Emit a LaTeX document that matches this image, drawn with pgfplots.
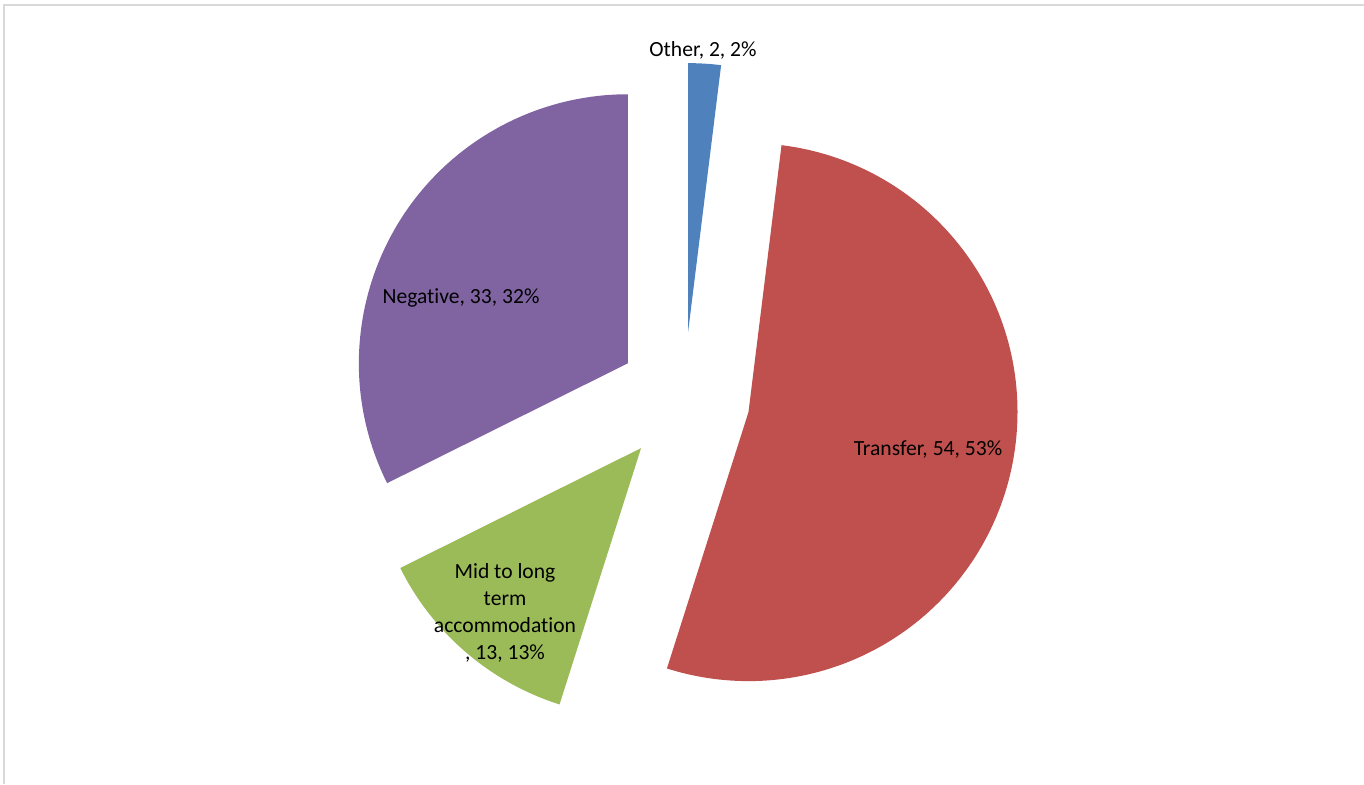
\documentclass[border=0pt]{standalone}
\usepackage{pgfplots}
\usepackage{pgfplotstable}
\usepackage{fontspec}
\setmainfont{Carlito}[Ligatures={NoCommon}]
\pgfplotsset{compat=1.18}

\definecolor{cOther}{HTML}{4F81BD}
\definecolor{cTransfer}{HTML}{C0504D}
\definecolor{cMid}{HTML}{9BBB59}
\definecolor{cNeg}{HTML}{8064A2}
\definecolor{frame}{HTML}{D9D9D9}

\pgfplotstableread{
label value
Other 2
Transfer 54
Mid 13
Negative 33
}\piedata

% slice values from the table, angles clockwise from 12 o'clock
\pgfplotstablegetelem{0}{value}\of\piedata\let\vA\pgfplotsretval
\pgfplotstablegetelem{1}{value}\of\piedata\let\vB\pgfplotsretval
\pgfplotstablegetelem{2}{value}\of\piedata\let\vC\pgfplotsretval
\pgfplotstablegetelem{3}{value}\of\piedata\let\vD\pgfplotsretval
\pgfmathsetmacro\total{\vA+\vB+\vC+\vD}
\pgfmathsetmacro\aA{90}
\pgfmathsetmacro\aB{\aA-360/\total*\vA}
\pgfmathsetmacro\aC{\aB-360/\total*\vB}
\pgfmathsetmacro\aD{\aC-360/\total*\vC}
\pgfmathsetmacro\aE{\aD-360/\total*\vD}

\newcommand\pieslice[3]{%
  \fill[#3] (axis cs:684,386) ++({(#1+#2)/2}:33pt) -- ++(#1:134.5pt)
    arc[start angle=#1, end angle=#2, radius=134.5pt] -- cycle;}

\begin{document}
\begin{tikzpicture}
\begin{axis}[
    x=0.5pt, y=0.5pt,
    xmin=0, xmax=1364, ymin=0, ymax=784,
    hide axis, clip=false,
]
\coordinate (bl) at (axis cs:0,0);
\coordinate (tr) at (axis cs:1364,784);
\draw[frame, line width=0.75pt] (axis cs:4,0) -- (axis cs:4,779) -- (axis cs:1364,779);

\pieslice{\aA}{\aB}{cOther}
\pieslice{\aB}{\aC}{cTransfer}
\pieslice{\aC}{\aD}{cMid}
\pieslice{\aD}{\aE}{cNeg}

\begin{scope}[every node/.style={font=\fontsize{10.8}{13.5}\selectfont, text=black, inner sep=0pt}]
\node at (axis cs:703,734) {Other, 2, 2\%};
\node at (axis cs:928,335) {Transfer, 54, 53\%};
\node at (axis cs:461,486) {Negative, 33, 32\%};
\node[align=center] at (axis cs:505,171) {Mid to long\\term\\accommodation\\, 13, 13\%};
\end{scope}
\end{axis}
\pgfresetboundingbox
\path[use as bounding box] (bl) rectangle (tr);
\end{tikzpicture}
\end{document}
